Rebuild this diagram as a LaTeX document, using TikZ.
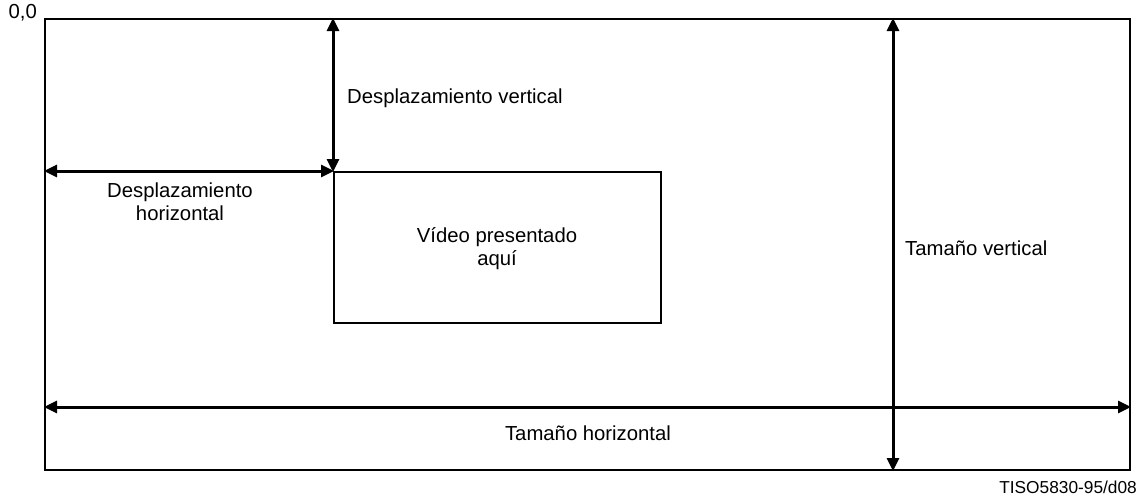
\documentclass[tikz,border=0pt]{standalone}
\usepackage{fontspec}
\setmainfont{Liberation Sans}
\usetikzlibrary{arrows.meta}
\begin{document}
\begin{tikzpicture}[x=1pt,y=-1pt,
  frame/.style={draw,line width=2pt},
  dim/.style={line width=3pt,{Triangle[length=13pt,width=12pt]}-{Triangle[length=13pt,width=12pt]},shorten <=-1pt,shorten >=-1pt},
  lbl/.style={font=\fontsize{20.3}{23}\selectfont,inner sep=0pt,align=center}]
\useasboundingbox (0,0) rectangle (1142,498);
% frame
\coordinate (TL) at (45,19);
\coordinate (BR) at (1130,470);
\draw[frame] (TL) rectangle (BR);
\node[lbl,anchor=east] (origin) at (37,13) {0,0};
% video box
\node[frame,minimum width=327pt,minimum height=151pt,anchor=north west,inner sep=0pt] (video) at (333,171) {};
\node[lbl] (vtxt) at (497,249) {Vídeo presentado\\aquí};
% anchor points
\coordinate (vtop) at (333,19);
\coordinate (hleft) at (45,171);
\coordinate (tvtop) at (893,19);
\coordinate (tvbot) at (893,470);
\coordinate (thl) at (45,407);
\coordinate (thr) at (1130,407);
% arrows
\draw[dim] (vtop) -- (video.north west);
\draw[dim] (hleft) -- (video.north west);
\draw[dim] (tvtop) -- (tvbot);
\draw[dim] (thl) -- (thr);
% labels
\node[lbl,anchor=west] (dv) at (347,98) {Desplazamiento vertical};
\node[lbl] (dh) at (180,202) {Desplazamiento\\horizontal};
\node[lbl,anchor=west] (tv) at (905,248) {Tamaño vertical};
\node[lbl] (th) at (588,433) {Tamaño horizontal};
\node[lbl,anchor=east,font=\fontsize{17.3}{20}\selectfont] (ref) at (1137,487) {TISO5830-95/d08};
\end{tikzpicture}
\end{document}
